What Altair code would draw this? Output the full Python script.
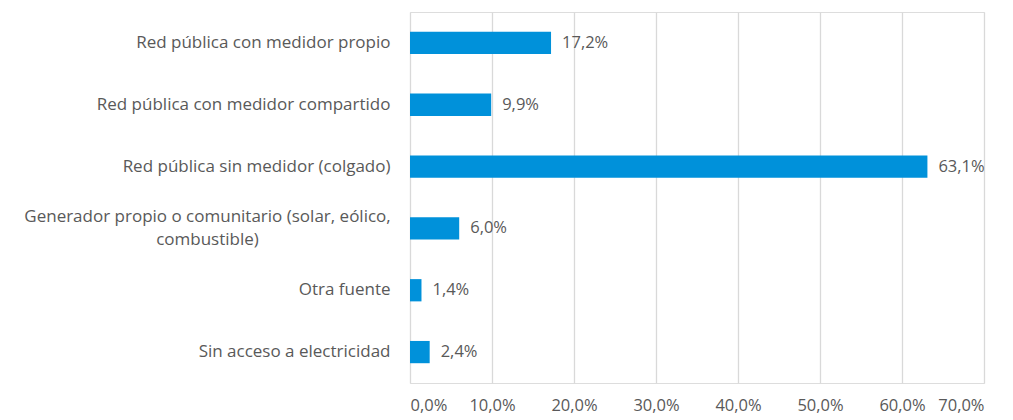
import altair as alt
import pandas as pd

categorias = [
    "Red pública con medidor propio",
    "Red pública con medidor compartido",
    "Red pública sin medidor (colgado)",
    "Generador propio o comunitario (solar, eólico,|combustible)",
    "Otra fuente",
    "Sin acceso a electricidad",
]
valores = [0.172, 0.099, 0.631, 0.060, 0.014, 0.024]
ticks = [0.0, 0.1, 0.2, 0.3, 0.4, 0.5, 0.6, 0.7]

df = pd.DataFrame({"cat": categorias, "val": valores})

FONT = "Open Sans"
GRAY = "#595959"
MULTI = "indexof(datum.value, '|') >= 0"

base = alt.Chart(df).encode(
    y=alt.Y(
        "cat:N",
        sort=categorias,
        scale=alt.Scale(paddingInner=0.64, paddingOuter=0.32),
        axis=alt.Axis(
            title=None,
            labelExpr="split(datum.label, '|')",
            labelFont=FONT,
            labelFontSize=17,
            labelColor=GRAY,
            labelPadding={"condition": {"test": MULTI, "value": 203}, "value": 20},
            labelAlign={"condition": {"test": MULTI, "value": "center"}, "value": "right"},
            labelOffset={"condition": {"test": MULTI, "value": -11}, "value": 0},
            labelLimit=420,
            labelLineHeight=23,
            ticks=False,
            domain=False,
            grid=False,
            minExtent=400,
            maxExtent=400,
        ),
    ),
    x=alt.X(
        "val:Q",
        scale=alt.Scale(domain=[0, 0.7], nice=False),
        axis=alt.Axis(
            title=None,
            values=ticks,
            labelExpr="replace(format(datum.value, '.1%'), '.', ',')",
            labelFont=FONT,
            labelFontSize=16.5,
            labelColor=GRAY,
            labelPadding=14,
            ticks=False,
            domain=False,
            grid=True,
            gridColor="#d9d9d9",
            gridWidth=1.3,
        ),
    ),
)

bars = base.mark_bar(color="#0091DA")
texts = base.mark_text(
    align="left", dx=11, font=FONT, fontSize=16.5, color=GRAY
).transform_calculate(
    lbl="replace(format(datum.val, '.1%'), '.', ',')"
).encode(text="lbl:N")

chart = (
    (bars + texts)
    .properties(
        width=574,
        height=371,
        padding={"left": 2, "top": 4, "right": 5, "bottom": 5},
    )
    .configure_view(stroke=None)
    .configure(background="white")
)

chart.save("out.html", embed_options={"renderer": "svg", "actions": False})
